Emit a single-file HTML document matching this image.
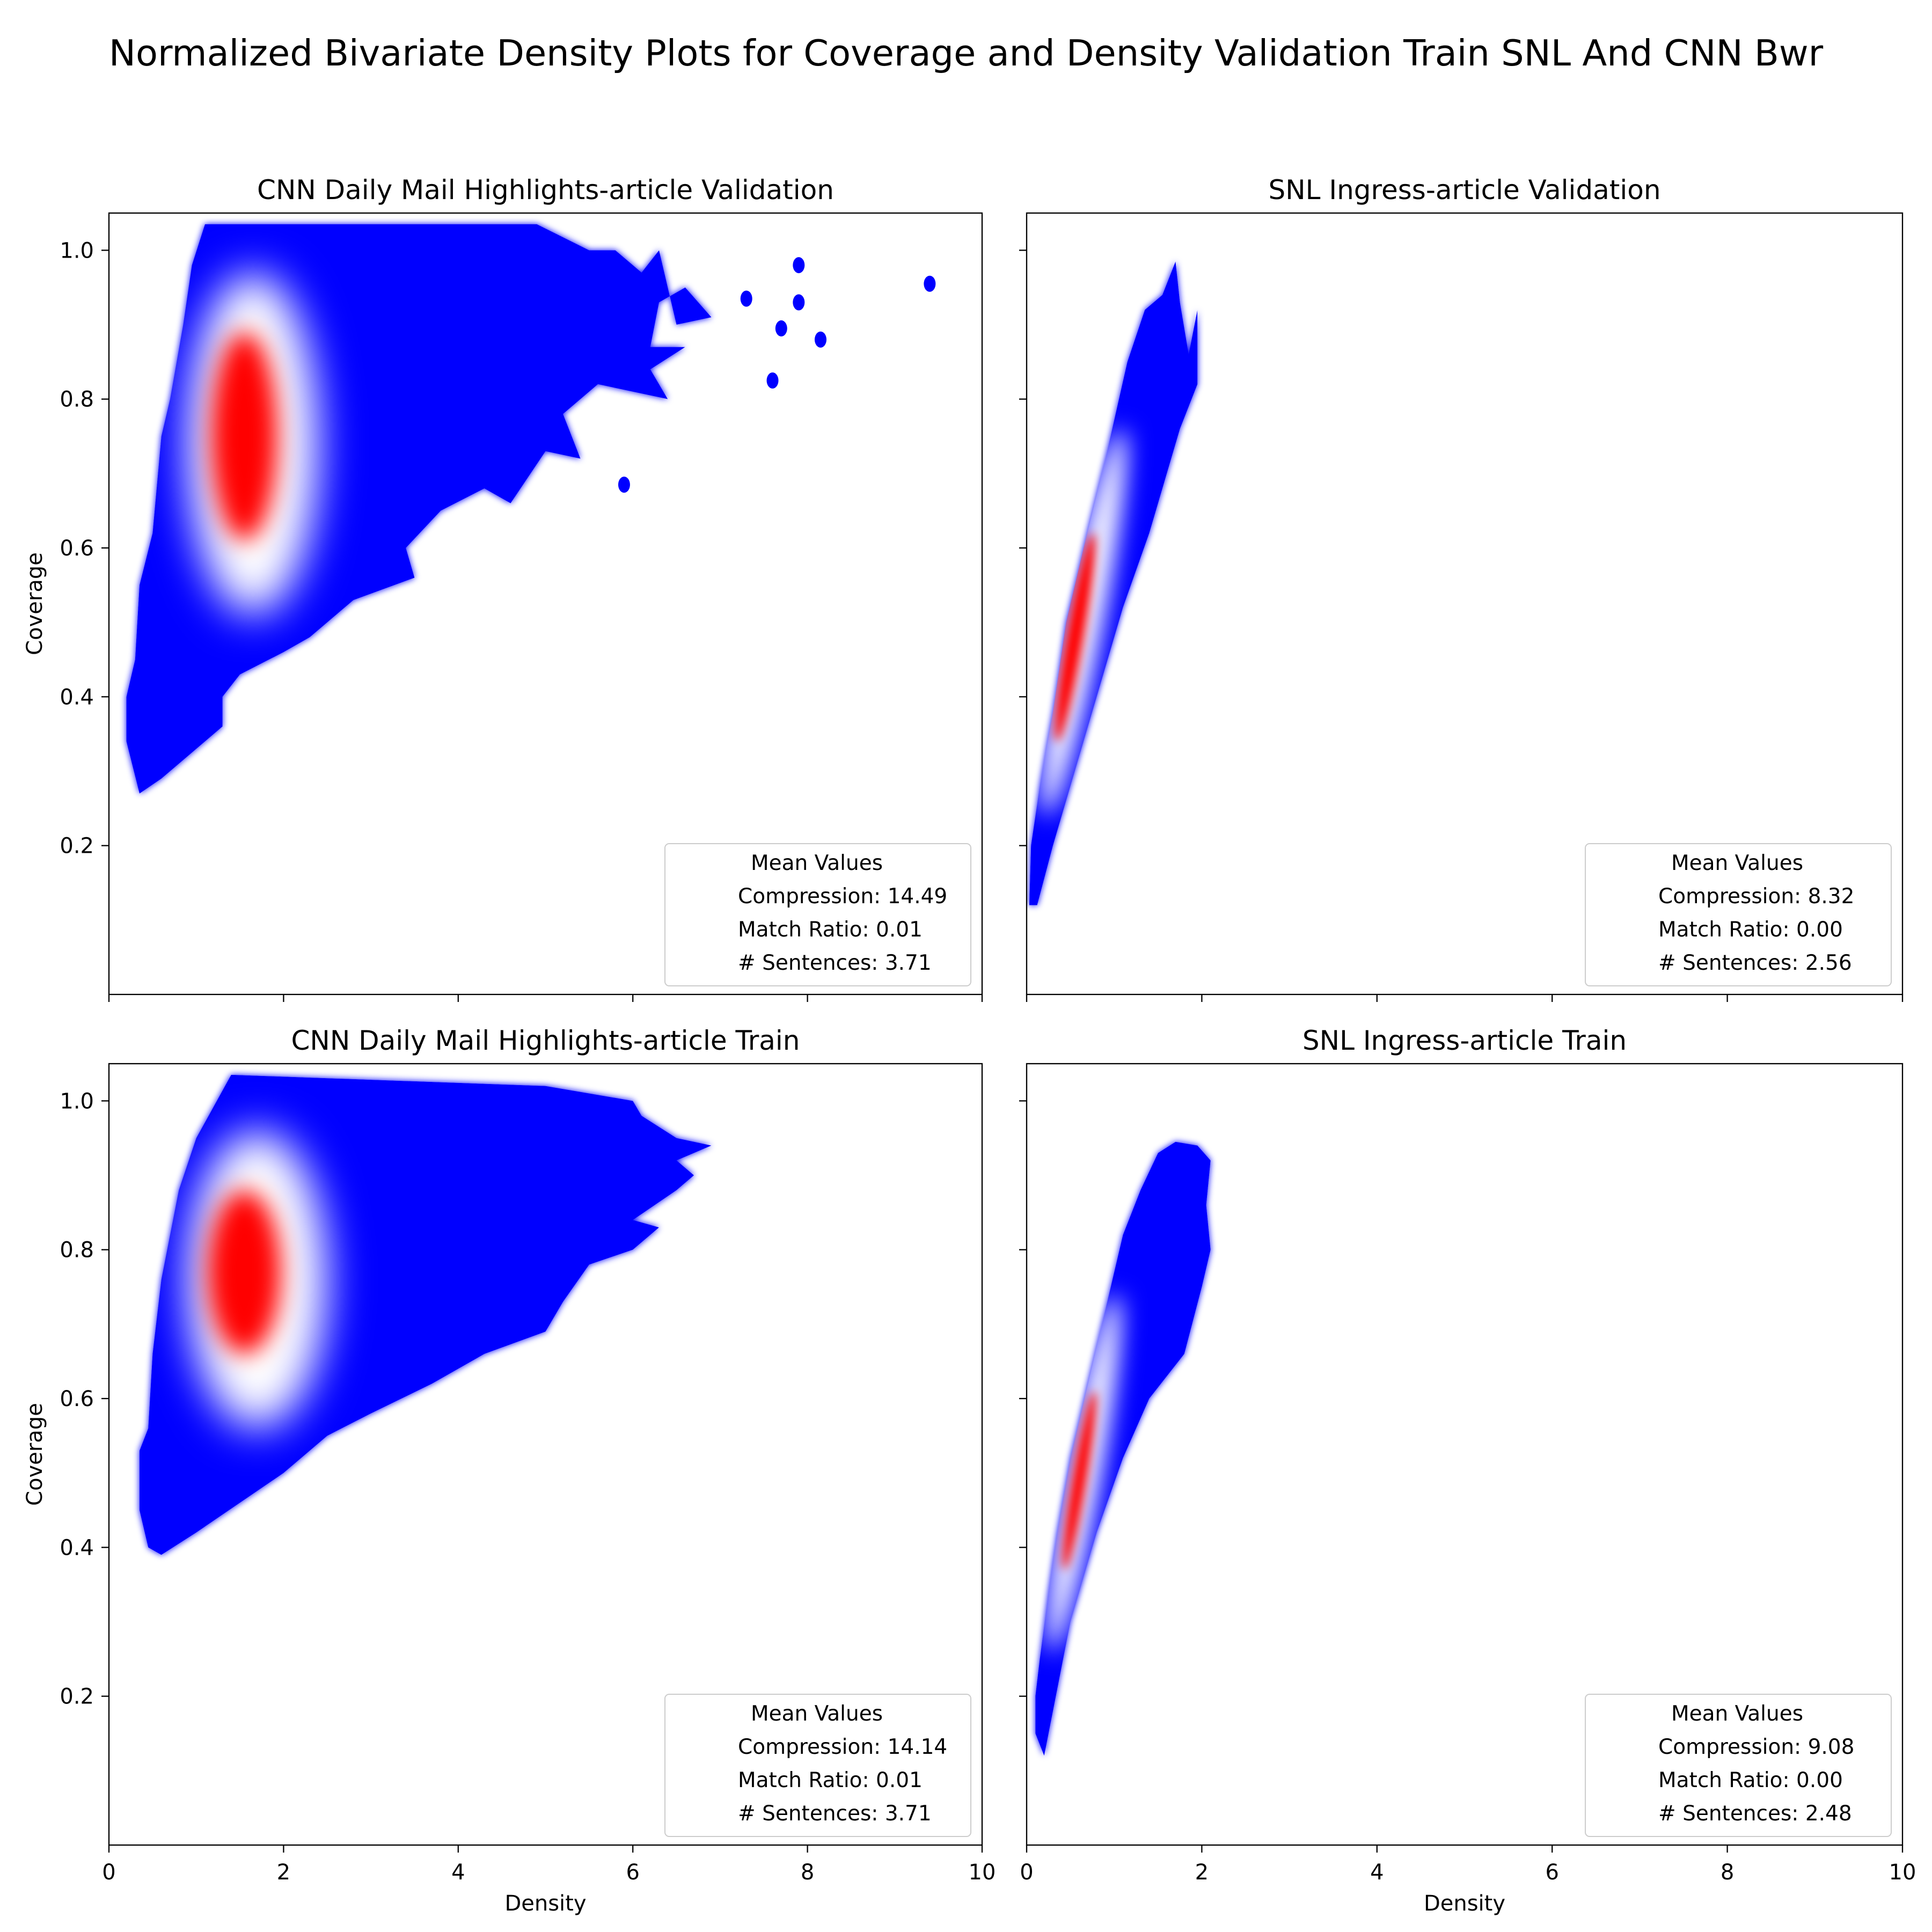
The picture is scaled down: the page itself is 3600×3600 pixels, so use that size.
<!DOCTYPE html>
<html><head><meta charset="utf-8">
<style>
html,body{margin:0;padding:0;background:#fff;}
svg{display:block;font-family:"DejaVu Sans","Liberation Sans",sans-serif;}
</style></head>
<body>
<svg id="fig" width="3600" height="3600" viewBox="0 0 3600 3600" xmlns="http://www.w3.org/2000/svg">
<defs>
<filter id="blurW" x="-100%" y="-100%" width="300%" height="300%"><feGaussianBlur stdDeviation="40"/></filter>
<filter id="blurR" x="-100%" y="-100%" width="300%" height="300%"><feGaussianBlur stdDeviation="22"/></filter>
<filter id="blurWs" x="-100%" y="-100%" width="300%" height="300%"><feGaussianBlur stdDeviation="22"/></filter>
<filter id="blurRs" x="-100%" y="-100%" width="300%" height="300%"><feGaussianBlur stdDeviation="9"/></filter>
<filter id="blur3" x="-20%" y="-20%" width="140%" height="140%"><feGaussianBlur stdDeviation="6"/></filter>
</defs>
<text x="1800" y="122" font-size="67" text-anchor="middle" fill="#000">Normalized Bivariate Density Plots for Coverage and Density Validation Train SNL And CNN Bwr</text>
</svg>
<script>
// ---- data ----
const xTicks = [0, 2, 4, 6, 8, 10];
const yTicks = [0.2, 0.4, 0.6, 0.8, 1.0];
const panelTitles = ["CNN Daily Mail Highlights-article Validation","SNL Ingress-article Validation","CNN Daily Mail Highlights-article Train","SNL Ingress-article Train"];
const compression = [14.49, 8.32, 14.14, 9.08];
const matchRatio = [0.01, 0.00, 0.01, 0.00];
const sentences = [3.71, 2.56, 3.71, 2.48];
// outlines of outer density contour: [density, coverage]
const outlineTL = [[0.2,0.34],[0.35,0.27],[0.6,0.29],[1,0.33],[1.3,0.36],[1.3,0.40],[1.5,0.43],[2,0.46],[2.3,0.48],[2.8,0.53],[3.5,0.56],[3.4,0.60],[3.8,0.65],[4.3,0.68],[4.6,0.66],[5,0.73],[5.4,0.72],[5.2,0.78],[5.6,0.82],[6.4,0.80],[6.2,0.84],[6.6,0.87],[6.2,0.87],[6.3,0.93],[6.6,0.95],[6.9,0.91],[6.5,0.90],[6.3,1.0],[6.1,0.97],[5.8,1.0],[5.5,1.0],[4.9,1.035],[1.1,1.035],[0.95,0.98],[0.85,0.90],[0.7,0.80],[0.6,0.75],[0.5,0.62],[0.35,0.55],[0.3,0.45],[0.2,0.40]];
const outlineTR = [[0.03,0.12],[0.12,0.12],[0.3,0.2],[0.5,0.28],[0.8,0.40],[1.1,0.52],[1.4,0.62],[1.75,0.76],[1.95,0.82],[1.95,0.92],[1.85,0.86],[1.75,0.93],[1.7,0.985],[1.55,0.94],[1.35,0.92],[1.15,0.85],[0.9,0.72],[0.65,0.60],[0.45,0.50],[0.3,0.38],[0.15,0.28],[0.05,0.2]];
const outlineBL = [[0.35,0.45],[0.45,0.40],[0.6,0.39],[1,0.42],[1.5,0.46],[2,0.50],[2.5,0.55],[3,0.58],[3.7,0.62],[4.3,0.66],[5,0.69],[5.2,0.73],[5.5,0.78],[6.0,0.80],[6.3,0.83],[6.0,0.84],[6.5,0.88],[6.7,0.90],[6.5,0.92],[6.9,0.94],[6.5,0.95],[6.1,0.98],[6.0,1.0],[5.0,1.02],[1.4,1.035],[1.0,0.95],[0.8,0.88],[0.6,0.76],[0.5,0.66],[0.45,0.56],[0.35,0.53]];
const outlineBR = [[0.1,0.15],[0.2,0.12],[0.3,0.18],[0.5,0.30],[0.8,0.42],[1.1,0.52],[1.4,0.60],[1.8,0.66],[2.0,0.75],[2.1,0.80],[2.05,0.86],[2.1,0.92],[1.95,0.94],[1.7,0.945],[1.5,0.93],[1.3,0.88],[1.1,0.82],[0.9,0.72],[0.7,0.62],[0.5,0.52],[0.35,0.42],[0.25,0.34],[0.15,0.25],[0.1,0.2]];
const outlines = [outlineTL, outlineTR, outlineBL, outlineBR];
// cores: [centerDensity, centerCoverage, minorHalfDensity, majorHalfCoverage, slope (coverage per density, 0 = upright)]
const whiteCores = [[1.65,0.74,0.75,0.23,0],[0.65,0.5,0.22,0.26,0.6],[1.7,0.76,0.8,0.2,0],[0.65,0.5,0.2,0.24,0.65]];
const redCores = [[1.55,0.75,0.38,0.14,0],[0.55,0.48,0.1,0.14,0.68],[1.55,0.77,0.42,0.11,0],[0.6,0.49,0.08,0.12,0.7]];
const spotsTL = [[9.4,0.955],[7.9,0.98],[7.6,0.825],[8.15,0.88],[7.7,0.895],[7.9,0.93],[5.9,0.685],[4.4,0.7],[7.3,0.935]];

// ---- layout ----
const NS = "http://www.w3.org/2000/svg";
const svg = document.getElementById('fig');
const panels = [
 {l:203,r:1830,t:397,b:1853,xl:false,yl:true},
 {l:1913,r:3545,t:397,b:1853,xl:false,yl:false},
 {l:203,r:1830,t:1982,b:3438,xl:true,yl:true},
 {l:1913,r:3545,t:1982,b:3438,xl:true,yl:false}
];
function mk(tag, attrs, parent){const e=document.createElementNS(NS,tag);for(const k in attrs)e.setAttribute(k,attrs[k]);(parent||svg).appendChild(e);return e;}
panels.forEach((p,i)=>{
  const X = v => p.l + (v-0)/(10-0)*(p.r-p.l);
  const Y = v => p.b - (v-0)/(1.05-0)*(p.b-p.t);
  const pxD = (p.r-p.l)/10, pxC = (p.b-p.t)/1.05;
  const g = mk('g',{});
  
  
  const cid='clip'+i;
  const cp=mk('clipPath',{id:cid},g); mk('rect',{x:p.l,y:p.t,width:p.r-p.l,height:p.b-p.t},cp);
  const dg = mk('g',{'clip-path':'url(#'+cid+')'},g);
  
  
  const cp2=mk('clipPath',{id:cid+'o'},g);
  const pts = outlines[i].map(d=>X(d[0])+','+Y(d[1])).join(' ');
  mk('polygon',{points:pts},cp2);
  const outer = mk('polygon',{points:pts,fill:'#0000ff',filter:'url(#blur3)'},dg);
  
  
  const inner = mk('g',{'clip-path':'url(#'+cid+'o)'},dg);
  mk('polygon',{points:pts,fill:'#0000ff'},inner);
  if(i===0){spotsTL.forEach(s=>{const e=mk('ellipse',{cx:X(s[0]),cy:Y(s[1]),rx:11,ry:15,fill:'#0000ff'},dg);});}
  function core(c,fill,flt,name){
    const cx=X(c[0]),cy=Y(c[1]);
    let rx,ry,ang;
    if(c[4]>0){
      const dy=c[3]*pxC, dx=(c[3]/c[4])*pxD;
      rx=Math.hypot(dx,dy); ry=c[2]*pxD*Math.sin(Math.atan2(dy,dx)); ang=-Math.atan2(dy,dx)*180/Math.PI;
    } else { rx=c[2]*pxD; ry=c[3]*pxC; ang=0; }
    const e=mk('ellipse',{cx:cx,cy:cy,rx:rx,ry:ry,fill:fill,filter:flt,transform:'rotate('+ang+' '+cx+' '+cy+')'},inner);
    
    
  }
  const thin = whiteCores[i][4]>0;
  core(whiteCores[i],'#ffffff',thin?'url(#blurWs)':'url(#blurW)','low-mid-density-region');
  core(redCores[i],'#ff0000',thin?'url(#blurRs)':'url(#blurR)','peak-density-region');
  // frame
  const fr=mk('rect',{x:p.l,y:p.t,width:p.r-p.l,height:p.b-p.t,fill:'none',stroke:'#000','stroke-width':2.3},g);
  
  
  xTicks.forEach(v=>{
    mk('line',{x1:X(v),x2:X(v),y1:p.b,y2:p.b+14,stroke:'#000','stroke-width':2.3},g);
    if(p.xl){const t=mk('text',{x:X(v),y:p.b+64,'font-size':40,'text-anchor':'middle'},g);t.textContent=v;
      }
  });
  yTicks.forEach(v=>{
    mk('line',{x1:p.l-14,x2:p.l,y1:Y(v),y2:Y(v),stroke:'#000','stroke-width':2.3},g);
    if(p.yl){const t=mk('text',{x:p.l-28,y:Y(v)+14,'font-size':40,'text-anchor':'end'},g);t.textContent=v.toFixed(1);
      }
  });
  const tt=mk('text',{x:(p.l+p.r)/2,y:p.t-26,'font-size':50,'text-anchor':'middle'},g);tt.textContent=panelTitles[i];
  
  if(p.yl){const yt=mk('text',{x:0,y:0,'font-size':40,'text-anchor':'middle',transform:'translate(78,'+((p.t+p.b)/2)+') rotate(-90)'},g);yt.textContent='Coverage';
    }
  if(p.xl){const xt=mk('text',{x:(p.l+p.r)/2,y:p.b+122,'font-size':40,'text-anchor':'middle'},g);xt.textContent='Density';
    }
  // legend
  const lg=mk('g',{},g);
  
  
  const lx=p.r-591, ly=p.b-281;
  mk('rect',{x:lx,y:ly,width:570,height:265,rx:8,fill:'#fff','fill-opacity':0.8,stroke:'#ccc','stroke-width':2},lg);
  const lt=mk('text',{x:lx+283,y:ly+49,'font-size':39,'text-anchor':'middle'},lg);lt.textContent='Mean Values';
  const lines=['Compression: '+compression[i].toFixed(2),'Match Ratio: '+matchRatio[i].toFixed(2),'# Sentences: '+sentences[i].toFixed(2)];
  lines.forEach((s,k)=>{const e=mk('text',{x:lx+136,y:ly+111+k*62,'font-size':39},lg);e.textContent=s;
    });
});
</script>
</body></html>
